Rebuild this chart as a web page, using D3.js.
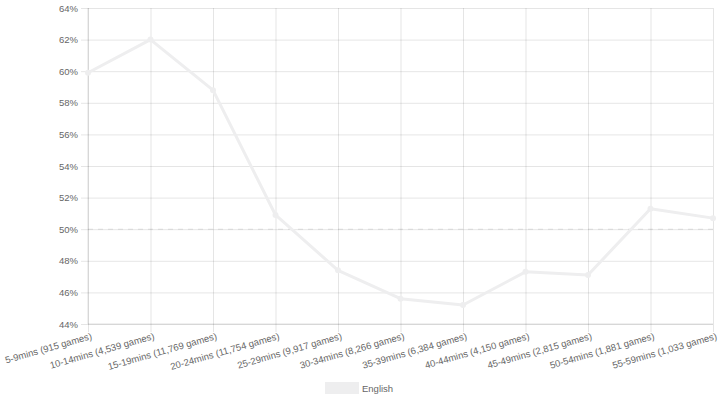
<!DOCTYPE html>
<html>
<head>
<meta charset="utf-8">
<script src="https://cdnjs.cloudflare.com/ajax/libs/d3/7.8.5/d3.min.js"></script>
<style>
  body { margin: 0; background: #fff; }
  text { font-family: "Liberation Sans", Arial, sans-serif; fill: #666; }
</style>
</head>
<body>
<div id="chart"></div>
<script>
var labels = ["5-9mins (915 games)", "10-14mins (4,539 games)", "15-19mins (11,769 games)",
  "20-24mins (11,754 games)", "25-29mins (9,917 games)", "30-34mins (8,266 games)",
  "35-39mins (6,384 games)", "40-44mins (4,150 games)", "45-49mins (2,815 games)",
  "50-54mins (1,881 games)", "55-59mins (1,033 games)"];
var english = [59.9, 62.0, 58.8, 50.9, 47.4, 45.6, 45.2, 47.3, 47.1, 51.3, 50.7];
var yTicks = [44, 46, 48, 50, 52, 54, 56, 58, 60, 62, 64];
var seriesName = "English";

var W = 719, H = 401;
var margin = {top: 8, right: 6, bottom: 77, left: 88};
var width = W - margin.left - margin.right,
    height = H - margin.top - margin.bottom;

var svg = d3.select("#chart").append("svg")
  .attr("width", W).attr("height", H)
  .append("g")
  .attr("transform", "translate(" + margin.left + "," + margin.top + ")");

var x = d3.scalePoint().domain(labels).range([0, width]);
var y = d3.scaleLinear().domain([44, 64]).range([height, 0]);

// horizontal grid + y labels
var yAxis = d3.axisLeft(y).tickValues(yTicks).tickSize(-width - 7)
  .tickFormat(function(d) { return d + "%"; }).tickPadding(3);
var gy = svg.append("g").attr("transform", "translate(-7,0)").call(yAxis);
gy.select(".domain").remove();
gy.selectAll("line").attr("stroke", "rgba(0,0,0,0.1)");
gy.selectAll("text").style("font-size", "9.5px").attr("fill", "#666");

// vertical grid + x labels
var xAxis = d3.axisBottom(x).tickSize(-height - 8).tickPadding(0);
var gx = svg.append("g").attr("transform", "translate(0," + (height + 8) + ")").call(xAxis);
gx.select(".domain").remove();
gx.selectAll("line").attr("stroke", "rgba(0,0,0,0.1)");
gx.selectAll("text")
  .style("font-size", "9.5px")
  .attr("fill", "#666")
  .attr("text-anchor", "end")
  .attr("dy", "0.75em")
  .attr("transform", "translate(2,0) rotate(-16)");

// axis borders
svg.append("line").attr("x1", 0).attr("x2", 0).attr("y1", 0).attr("y2", height)
  .attr("stroke", "rgba(0,0,0,0.12)");
svg.append("line").attr("x1", 0).attr("x2", width).attr("y1", height).attr("y2", height)
  .attr("stroke", "rgba(0,0,0,0.12)");

// dashed 50% reference
svg.append("line").attr("x1", 0).attr("x2", width).attr("y1", y(50)).attr("y2", y(50))
  .attr("stroke", "rgba(0,0,0,0.1)").attr("stroke-dasharray", "5,5");

var line = d3.line()
  .x(function(d, i) { return x(labels[i]); })
  .y(function(d) { return y(d); });

svg.append("path").datum(english)
  .attr("fill", "none")
  .attr("stroke", "#eeeeef")
  .attr("stroke-width", 3)
  .attr("stroke-linejoin", "round")
  .attr("d", line);

svg.selectAll(".pt").data(english).enter().append("circle")
  .attr("class", "pt")
  .attr("cx", function(d, i) { return x(labels[i]); })
  .attr("cy", function(d) { return y(d); })
  .attr("r", 3)
  .attr("fill", "#eeeeef");

// legend
var lg = d3.select("svg").append("g").attr("transform", "translate(325,382)");
lg.append("rect").attr("width", 34).attr("height", 12).attr("fill", "#eeeeef");
lg.append("text").attr("x", 37).attr("y", 10).style("font-size", "9.5px").text(seriesName);
</script>
</body>
</html>
